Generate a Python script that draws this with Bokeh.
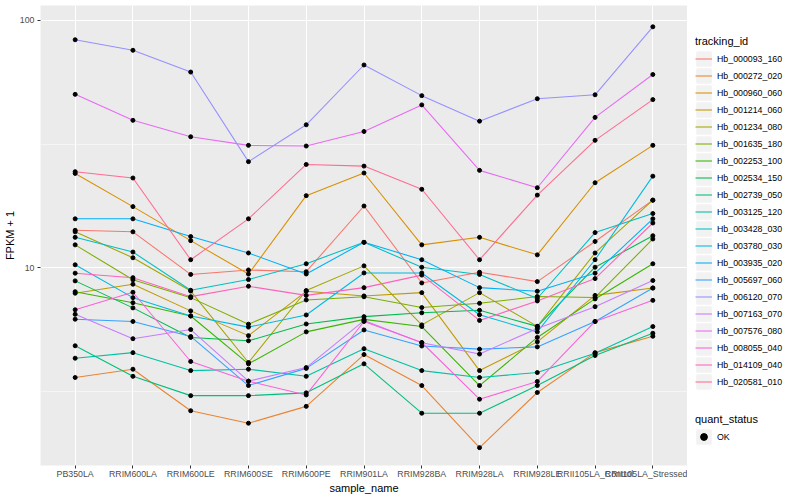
import numpy as np
from bokeh.plotting import figure
from bokeh.layouts import row
from bokeh.models import (ColumnDataSource, FactorRange, Range1d, FixedTicker,
                          NumeralTickFormatter, Legend, LegendItem)
from bokeh.embed import file_html
from bokeh.resources import INLINE

# ---------------- data ----------------
samples = ["PB350LA", "RRIM600LA", "RRIM600LE", "RRIM600SE", "RRIM600PE",
           "RRIM901LA", "RRIM928BA", "RRIM928LA", "RRIM928LE",
           "RRII105LA_Control", "RRII105LA_Stressed"]

tracking_ids = ["Hb_000093_160", "Hb_000272_020", "Hb_000960_060", "Hb_001214_060",
                "Hb_001234_080", "Hb_001635_180", "Hb_002253_100", "Hb_002534_150",
                "Hb_002739_050", "Hb_003125_120", "Hb_003428_030", "Hb_003780_030",
                "Hb_003935_020", "Hb_005697_060", "Hb_006120_070", "Hb_007163_070",
                "Hb_007576_080", "Hb_008055_040", "Hb_014109_040", "Hb_020581_010"]

colors = ["#F8766D", "#EA8331", "#D89000", "#C09B00", "#A3A500", "#7CAE00",
          "#39B600", "#00BB4E", "#00BF7D", "#00C1A3", "#00BFC4", "#00BAE0",
          "#00B0F6", "#35A2FF", "#9590FF", "#C77CFF", "#E76BF3", "#FA62DB",
          "#FF62BC", "#FF6C91"]

hb_000093_160 = [14.2, 14.0, 9.42, 9.82, 9.66, 17.8, 8.70, 9.62, 8.81, 12.8, 18.8]
hb_000272_020 = [3.61, 3.90, 2.65, 2.36, 2.76, 4.47, 3.35, 1.88, 3.14, 4.55, 5.3]
hb_000960_060 = [24.1, 17.7, 12.9, 9.45, 19.6, 24.2, 12.4, 13.3, 11.3, 22.1, 31.3]
hb_001214_060 = [7.91, 8.6, 6.71, 5.33, 8.05, 7.71, 7.95, 3.85, 5.03, 7.75, 8.3]
hb_001234_080 = [14.0, 11.0, 8.07, 4.15, 8.11, 10.2, 5.89, 7.95, 5.81, 11.5, 18.8]
hb_001635_180 = [12.4, 8.96, 7.59, 5.93, 7.43, 7.65, 6.92, 7.20, 7.67, 7.6, 13.1]
hb_002253_100 = [8.02, 7.24, 6.40, 4.10, 5.52, 6.2, 5.80, 3.35, 5.24, 7.5, 10.4]
hb_002534_150 = [8.87, 6.90, 5.24, 5.08, 5.94, 6.36, 6.59, 6.75, 5.81, 10.07, 13.5]
hb_002739_050 = [4.85, 3.65, 3.05, 3.05, 3.13, 4.10, 2.59, 2.59, 3.35, 4.43, 5.45]
hb_003125_120 = [4.32, 4.55, 3.85, 3.90, 3.65, 4.72, 3.85, 3.61, 3.78, 4.52, 5.8]
hb_003428_030 = [13.3, 11.6, 8.13, 8.98, 10.4, 12.7, 10.07, 9.42, 7.53, 13.9, 16.6]
hb_003780_030 = [10.3, 7.59, 6.40, 5.77, 6.46, 9.55, 9.55, 6.47, 5.52, 10.8, 23.5]
hb_003935_020 = [15.8, 15.8, 13.4, 11.5, 9.46, 12.7, 10.8, 8.33, 8.05, 9.53, 15.8]
hb_005697_060 = [6.21, 6.08, 5.29, 3.35, 3.93, 5.62, 4.84, 4.70, 4.80, 6.08, 8.3]
hb_006120_070 = [83.6, 75.8, 61.9, 26.9, 37.9, 66.1, 49.7, 39.2, 48.3, 50.1, 94.3]
hb_007163_070 = [6.50, 5.18, 5.64, 3.49, 3.96, 6.13, 4.99, 4.49, 5.7, 6.98, 8.9]
hb_007576_080 = [50.3, 39.5, 33.9, 31.3, 31.1, 35.6, 45.6, 24.8, 21.1, 40.6, 60.5]
hb_008055_040 = [6.78, 7.98, 4.19, 3.49, 3.07, 6.08, 5.0, 2.95, 3.48, 6.08, 7.4]
hb_014109_040 = [9.53, 9.14, 7.66, 8.44, 7.75, 8.33, 9.36, 6.14, 7.36, 9.06, 15.2]
hb_020581_010 = [24.5, 23.1, 10.8, 15.8, 26.2, 25.8, 20.8, 10.8, 19.7, 32.8, 47.9]

series = [hb_000093_160, hb_000272_020, hb_000960_060, hb_001214_060, hb_001234_080,
          hb_001635_180, hb_002253_100, hb_002534_150, hb_002739_050, hb_003125_120,
          hb_003428_030, hb_003780_030, hb_003935_020, hb_005697_060, hb_006120_070,
          hb_007163_070, hb_007576_080, hb_008055_040, hb_014109_040, hb_020581_010]

quant_status = "OK"

# ---------------- main figure ----------------
FONT = "Liberation Sans"

p = figure(width=687, height=500,
           x_range=FactorRange(factors=samples, range_padding=0.1,
                               range_padding_units="absolute"),
           y_range=Range1d(10 ** 0.2020, 10 ** 2.0606), y_axis_type="log",
           output_backend="svg", toolbar_location=None,
           min_border_left=40, min_border_right=0, min_border_top=5,
           min_border_bottom=35,
           background_fill_color="#EBEBEB", border_fill_color="white",
           outline_line_color=None)

for ax in (p.xaxis[0], p.yaxis[0]):
    ax.axis_line_color = None
    ax.major_tick_line_color = "#333333"
    ax.major_tick_line_width = 1
    ax.major_tick_out = 3
    ax.major_tick_in = 0
    ax.minor_tick_line_color = None
    ax.major_label_text_font = FONT
    ax.major_label_text_font_size = "8.8px"
    ax.major_label_text_color = "#4D4D4D"
    ax.axis_label_text_font = FONT
    ax.axis_label_text_font_size = "11px"
    ax.axis_label_text_font_style = "normal"
    ax.axis_label_text_color = "black"

p.xaxis.major_label_standoff = 0
p.xaxis.axis_label_standoff = 0
p.yaxis.major_label_standoff = 2
p.yaxis.axis_label_standoff = 1

p.xaxis.axis_label = "sample_name"
p.yaxis.axis_label = "FPKM + 1"
p.yaxis.ticker = FixedTicker(ticks=[10, 100], minor_ticks=[10 ** 0.5, 10 ** 1.5])
p.yaxis.formatter = NumeralTickFormatter(format="0")

p.xgrid.grid_line_color = "white"
p.xgrid.grid_line_width = 1.07
p.ygrid.grid_line_color = "white"
p.ygrid.grid_line_width = 1.07
p.ygrid.minor_grid_line_color = "white"
p.ygrid.minor_grid_line_width = 0.53

# lines
for tid, col, vals in zip(tracking_ids, colors, series):
    src = ColumnDataSource(dict(x=samples, y=vals))
    p.line("x", "y", source=src, line_color=col, line_width=1.07)

# points on top
all_x = [s for _ in series for s in samples]
all_y = [v for vals in series for v in vals]
p.scatter(x=all_x, y=all_y, size=4, marker="circle",
          fill_color="black", line_color="black")

# ---------------- legend panel ----------------
lp = figure(width=113, height=500, x_range=Range1d(0, 1), y_range=Range1d(0, 1),
            output_backend="svg", toolbar_location=None,
            x_axis_location=None, y_axis_location=None,
            min_border=0, outline_line_color=None,
            background_fill_color="white", border_fill_color="white")
lp.grid.visible = False

key_bg = lp.rect(x=[0.5], y=[np.nan], width=0.1, height=0.1,
                 fill_color="#F2F2F2", line_color="#F2F2F2", line_width=2)
key_lines = [lp.line(x=[0.5, 0.5], y=[np.nan, np.nan], line_color=col,
                     line_width=1.07) for col in colors]
key_pt = lp.scatter(x=[0.5], y=[np.nan], size=4, marker="circle",
                    fill_color="black", line_color="black")


def style_legend(leg):
    leg.padding = 0
    leg.spacing = 0
    leg.margin = 0
    leg.border_line_color = None
    leg.background_fill_alpha = 0
    leg.glyph_width = 17
    leg.glyph_height = 17
    leg.label_height = 17
    leg.label_standoff = 5
    leg.label_text_font = FONT
    leg.label_text_font_size = "8.8px"
    leg.label_text_color = "black"
    leg.label_text_baseline = "middle"
    leg.title_text_font = FONT
    leg.title_text_font_size = "11px"
    leg.title_text_font_style = "normal"
    leg.title_text_color = "black"
    leg.title_standoff = 3


leg1 = Legend(items=[LegendItem(label=tid, renderers=[key_bg, r])
                     for tid, r in zip(tracking_ids, key_lines)],
              title="tracking_id", location=(8, 75))
style_legend(leg1)
lp.add_layout(leg1)

leg2 = Legend(items=[LegendItem(label=quant_status, renderers=[key_bg, key_pt])],
              title="quant_status", location=(8, 20))
style_legend(leg2)
lp.add_layout(leg2)

layout = row(p, lp)
open("out.html", "w").write(file_html(layout, INLINE))
